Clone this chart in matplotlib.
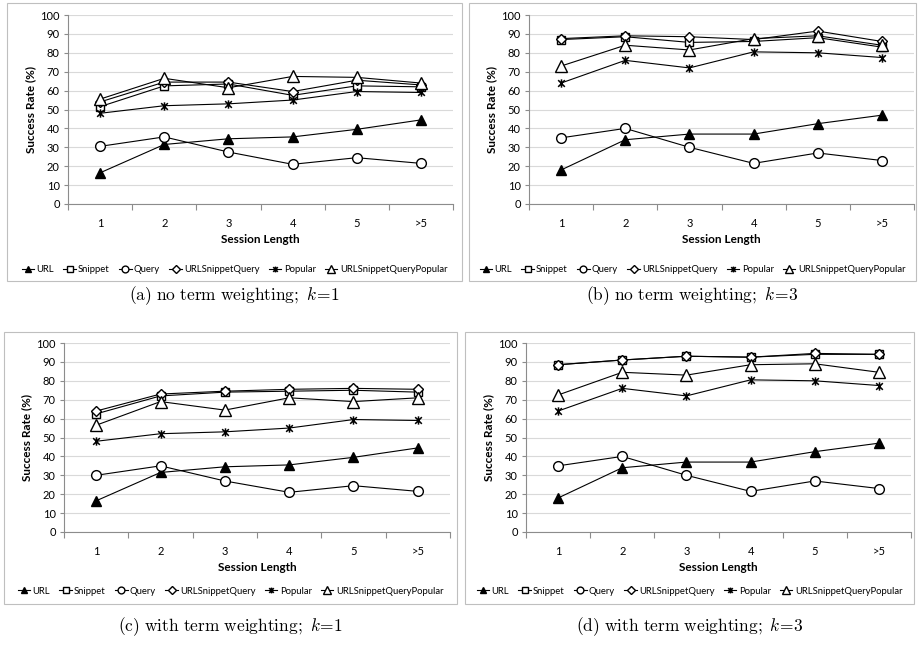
import matplotlib
matplotlib.use('Agg')
from matplotlib import pyplot as plt
from matplotlib.lines import Line2D
from matplotlib.patches import Rectangle
from matplotlib.path import Path

plt.rcParams['font.family'] = ['Lato', 'DejaVu Sans']
plt.rcParams['mathtext.fontset'] = 'cm'

sessions = ['1', '2', '3', '4', '5', '>5']
names = ['URL', 'Snippet', 'Query', 'URLSnippetQuery', 'Popular', 'URLSnippetQueryPopular']

# (a) no term weighting, k=1
a_url = [16.5, 31.5, 34.5, 35.5, 39.5, 44.5]
a_snippet = [51.5, 62.5, 63.5, 57.5, 62.5, 62]
a_query = [30.5, 35.5, 27.5, 21, 24.5, 21.5]
a_usq = [54, 64.5, 64.5, 59.5, 65.5, 63]
a_popular = [48, 52, 53, 55, 59.5, 59]
a_usqp = [55.5, 66.5, 61.5, 67.5, 67, 64]

# (b) no term weighting, k=3
b_url = [18, 34, 37, 37, 42.5, 47]
b_snippet = [87, 88.5, 85.5, 86, 88, 83]
b_query = [35, 40, 30, 21.5, 27, 23]
b_usq = [87.5, 89, 88.5, 87, 91.5, 86]
b_popular = [64, 76, 72, 80.5, 80, 77.5]
b_usqp = [73, 84, 81.5, 87.5, 89, 84]

# (c) with term weighting, k=1
c_url = [16.5, 31.5, 34.5, 35.5, 39.5, 44.5]
c_snippet = [62.5, 72, 74, 74.5, 75, 74]
c_query = [30, 35, 27, 21, 24.5, 21.5]
c_usq = [64, 73, 74.5, 75.5, 76, 75.5]
c_popular = [48, 52, 53, 55, 59.5, 59]
c_usqp = [56.5, 69, 64.5, 71, 69, 71]

# (d) with term weighting, k=3
d_url = [18, 34, 37, 37, 42.5, 47]
d_snippet = [88.5, 91, 93, 92.5, 94, 94]
d_query = [35, 40, 30, 21.5, 27, 23]
d_usq = [88.5, 91, 93, 92.5, 94.5, 94]
d_popular = [64, 76, 72, 80.5, 80, 77.5]
d_usqp = [72.5, 84.5, 83, 88.5, 89, 84.5]

captions = [r'$\mathrm{(a)\ no\ term\ weighting;}\ \mathit{k}\!=\!\mathit{1}$',
            r'$\mathrm{(b)\ no\ term\ weighting;}\ \mathit{k}\!=\!\mathit{3}$',
            r'$\mathrm{(c)\ with\ term\ weighting;}\ \mathit{k}\!=\!\mathit{1}$',
            r'$\mathrm{(d)\ with\ term\ weighting;}\ \mathit{k}\!=\!\mathit{3}$']

panels = [
    [a_url, a_snippet, a_query, a_usq, a_popular, a_usqp],
    [b_url, b_snippet, b_query, b_usq, b_popular, b_usqp],
    [c_url, c_snippet, c_query, c_usq, c_popular, c_usqp],
    [d_url, d_snippet, d_query, d_usq, d_popular, d_usqp],
]

# excel style star: an x with a vertical bar
star = Path([(-1, -1), (1, 1), (-1, 1), (1, -1), (0, -1.25), (0, 1.25)],
            [Path.MOVETO, Path.LINETO, Path.MOVETO, Path.LINETO, Path.MOVETO, Path.LINETO])

styles = [
    dict(marker='^', mfc='black', ms=7),
    dict(marker='s', mfc='white', ms=6),
    dict(marker='o', mfc='white', ms=7),
    dict(marker='D', mfc='white', ms=5.5),
    dict(marker=star, mfc='none', ms=6, mew=1.1),
    dict(marker='^', mfc='white', ms=8),
]

W, H = 918, 646
fig = plt.figure(figsize=(W / 100, H / 100), dpi=100)

# pixel layout: plot area (left, right, top, bottom), box (left, right, top, bottom)
plot_px = [(68, 453, 15, 204), (529, 914, 15, 204), (64, 450, 343, 532), (526, 911, 343, 532)]
box_px = [(7, 462, 3, 281), (469, 916, 3, 281), (4, 457, 332, 604), (465, 914, 332, 604)]
grey = '#8c8c8c'

for i, series in enumerate(panels):
    l, r, t, b = plot_px[i]
    ax = fig.add_axes([l / W, 1 - b / H, (r - l) / W, (b - t) / H])
    x = range(1, 7)
    for vals, st in zip(series, styles):
        ax.plot(x, vals, color='black', lw=0.8, mec='black', zorder=3, **st)
    ax.set_xlim(0.5, 6.5)
    ax.set_ylim(0, 100)
    ax.set_yticks(range(0, 101, 10))
    ax.set_xticks(list(x))
    ax.set_xticklabels(sessions)
    ax.set_xticks([k + 0.5 for k in range(0, 7)], minor=True)
    ax.tick_params(axis='x', which='major', length=0, pad=10, labelsize=8)
    ax.tick_params(axis='x', which='minor', length=4, color=grey, width=0.8)
    ax.tick_params(axis='y', length=3, color=grey, width=0.8, labelsize=8, pad=3)
    ax.grid(axis='y', color='#d9d9d9', lw=0.8)
    ax.set_axisbelow(True)
    for s in ['top', 'right']:
        ax.spines[s].set_visible(False)
    for s in ['left', 'bottom']:
        ax.spines[s].set_color(grey)
        ax.spines[s].set_linewidth(0.8)
    ax.set_ylabel('Success Rate (%)', fontsize=8.5, fontweight='bold', labelpad=3)
    ax.set_xlabel('Session Length', fontsize=8.5, fontweight='bold', labelpad=4)

    bl, br, bt, bb = box_px[i]
    fig.patches.append(Rectangle((bl / W, 1 - bb / H), (br - bl) / W, (bb - bt) / H,
                                 transform=fig.transFigure, fill=False,
                                 edgecolor='#bfbfbf', lw=0.8))

    handles = [Line2D([], [], color='black', lw=0.8, mec='black', **st) for st in styles]
    leg_y = 270 if i < 2 else 591
    fig.legend(handles, names, loc='center', ncol=6, frameon=False,
               bbox_to_anchor=((bl + br) / 2 / W, 1 - leg_y / H),
               fontsize=6.8, markerscale=0.7, handlelength=1.3,
               handletextpad=0.25, columnspacing=1.0)

    cap_y = 296 if i < 2 else 627
    fig.text((bl + br) / 2 / W, 1 - cap_y / H, captions[i], ha='center', va='center',
             fontsize=12.5)

fig.savefig('out.png', dpi=100)
